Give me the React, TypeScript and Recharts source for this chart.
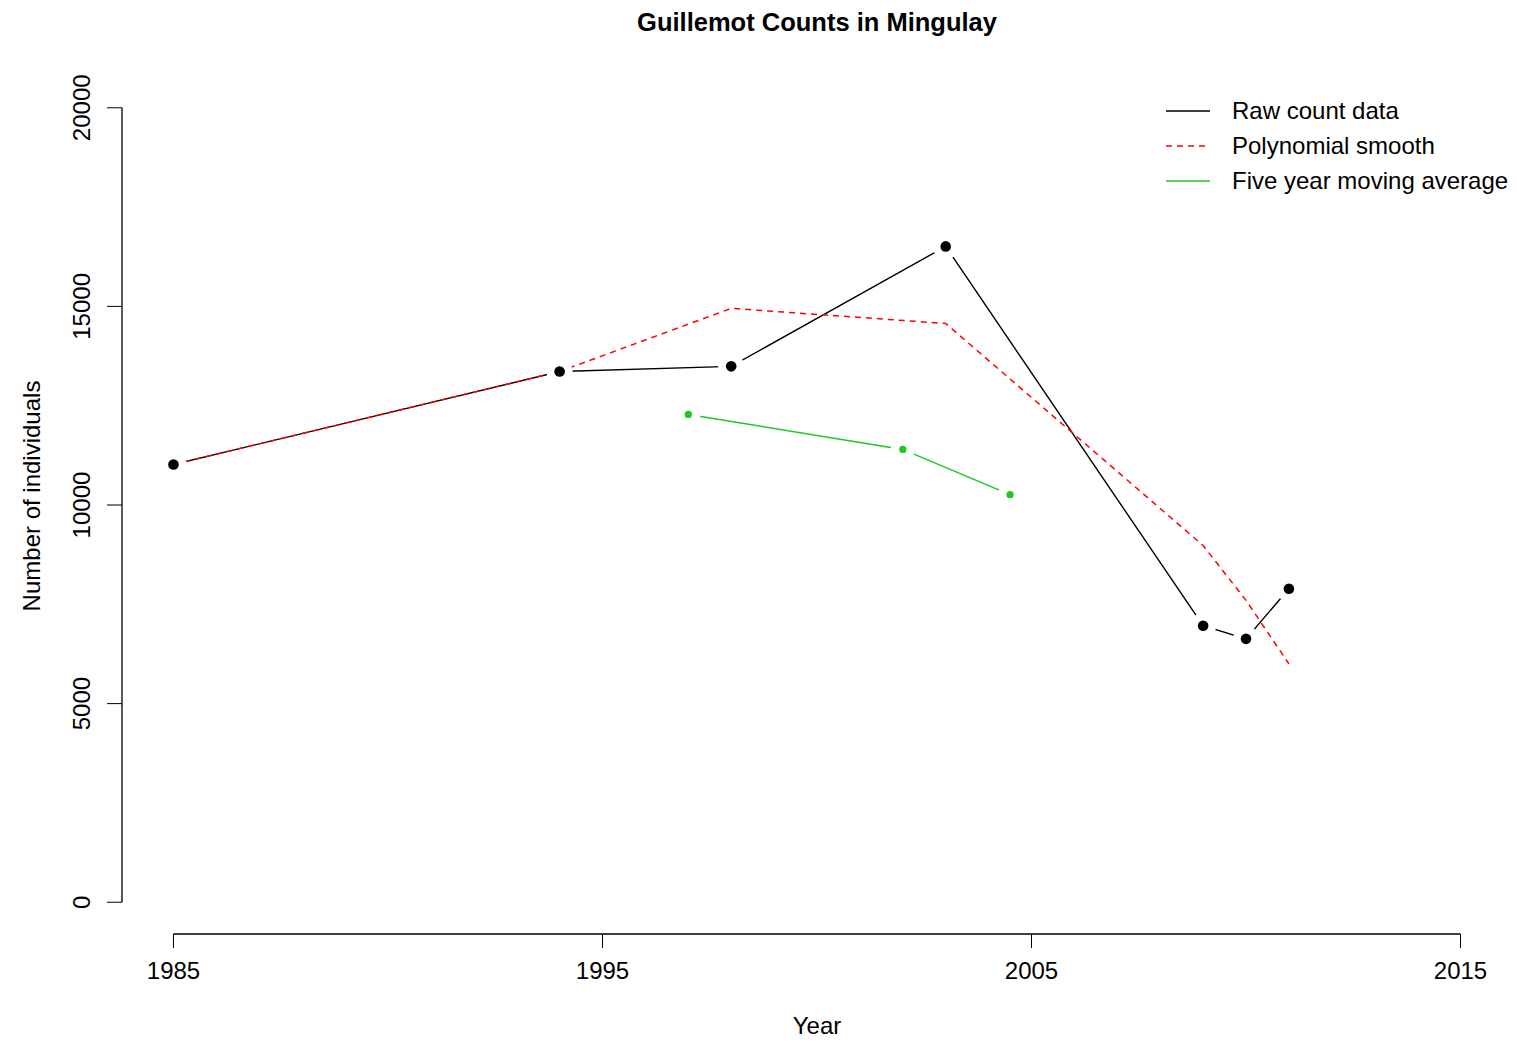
import React from 'react';
import { ComposedChart, Line, XAxis, YAxis, ReferenceLine, Legend, Customized } from 'recharts';

// survey years and raw counts
const rawYears = [1985, 1994, 1998, 2003, 2009, 2010, 2011];
const rawCounts = [11020, 13360, 13490, 16510, 6960, 6630, 7890];

// polynomial fit, evaluated at the survey years
const smoothCounts = [11020, 13360, 14950, 14570, 8980, 7600, 6000];

// five year moving average
const avgYears = [1997, 2002, 2004.5];
const avgCounts = [12280, 11400, 10260];

const xTicks = [1985, 1995, 2005, 2015];
const yTicks = [0, 5000, 10000, 15000, 20000];

const legendLabels = ['Raw count data', 'Polynomial smooth', 'Five year moving average'];
const legendColors = ['#000000', '#ff0000', '#1ec81e'];
const legendDashes = ['', '6 5', ''];

const rawData = rawYears.map((year, i) => ({ year, value: rawCounts[i] }));
const smoothData = rawYears.map((year, i) => ({ year, value: smoothCounts[i] }));
const avgData = avgYears.map((year, i) => ({ year, value: avgCounts[i] }));

const FONT = '"Liberation Sans", Arial, sans-serif';

// R type="b": points with a gap in the line around them
const RawDot = (props: any) => {
    const { cx, cy, index } = props;
    if (cx == null || cy == null) return <g key={`raw-${index}`} />;
    return (
        <g key={`raw-${index}`}>
            <circle cx={cx} cy={cy} r={13} fill="#fff" />
            <circle cx={cx} cy={cy} r={5.3} fill="#000" />
        </g>
    );
};

const AvgDot = (props: any) => {
    const { cx, cy, index } = props;
    if (cx == null || cy == null) return <g key={`avg-${index}`} />;
    return (
        <g key={`avg-${index}`}>
            <circle cx={cx} cy={cy} r={12} fill="#fff" />
            <circle cx={cx} cy={cy} r={3.6} fill="#1ec81e" />
        </g>
    );
};

const YTick = (props: any) => {
    const { y, payload } = props;
    return (
        <text x={90} y={y} transform={`rotate(-90 90 ${y})`} textAnchor="middle"
            fontSize={24} fill="#000" fontFamily={FONT}>
            {payload.value}
        </text>
    );
};

const Texts = () => (
    <g fontFamily={FONT} fill="#000">
        <text x={817} y={31} textAnchor="middle" fontSize={25.5} fontWeight="bold">
            Guillemot Counts in Mingulay
        </text>
        <text x={817} y={1034} textAnchor="middle" fontSize={24}>Year</text>
        <text x={40} y={496} transform="rotate(-90 40 496)" textAnchor="middle" fontSize={24}>
            Number of individuals
        </text>
    </g>
);

const LegendBox = () => (
    <svg width={360} height={110} style={{ display: 'block' }}>
        {legendLabels.map((label, i) => (
            <g key={label}>
                <line x1={6} x2={50} y1={21 + 35 * i} y2={21 + 35 * i}
                    stroke={legendColors[i]} strokeWidth={1.5}
                    strokeDasharray={legendDashes[i] || undefined} />
                <text x={72} y={29 + 35 * i} fontSize={24} fontFamily={FONT} fill="#000">{label}</text>
            </g>
        ))}
    </svg>
);

export default function App() {
    return (
        <div style={{ position: 'absolute', left: 0, top: 0, background: '#fff' }}>
            <ComposedChart width={1517} height={1049} margin={{ top: 76, right: 5, left: 0, bottom: 0 }}>
                <XAxis type="number" dataKey="year" domain={[1983.8, 2016.2]} allowDataOverflow
                    ticks={xTicks} axisLine={false} tickSize={14} tickMargin={14} height={115}
                    tickLine={{ stroke: '#000' }} tick={{ fill: '#000', fontSize: 24, fontFamily: FONT }} />
                <YAxis type="number" domain={[-800, 20800]} allowDataOverflow ticks={yTicks}
                    axisLine={false} tickSize={15} width={122} tickLine={{ stroke: '#000' }} tick={<YTick />} />
                <ReferenceLine segment={[{ x: 1985, y: -800 }, { x: 2015, y: -800 }]}
                    stroke="#000" strokeWidth={1.3} ifOverflow="visible" />
                <ReferenceLine segment={[{ x: 1983.8, y: 0 }, { x: 1983.8, y: 20000 }]}
                    stroke="#000" strokeWidth={1.3} ifOverflow="visible" />
                <Line data={rawData} dataKey="value" type="linear" stroke="#000" strokeWidth={1.4}
                    dot={RawDot} activeDot={false} isAnimationActive={false} />
                <Line data={smoothData} dataKey="value" type="linear" stroke="#ff0000" strokeWidth={1.5}
                    strokeDasharray="6 5" dot={false} activeDot={false} isAnimationActive={false} />
                <Line data={avgData} dataKey="value" type="linear" stroke="#1ec81e" strokeWidth={1.5}
                    dot={AvgDot} activeDot={false} isAnimationActive={false} />
                <Customized component={<Texts />} />
                <Legend layout="vertical" align="center" verticalAlign="middle" content={<LegendBox />}
                    wrapperStyle={{ position: 'absolute', left: 1160, top: 90, width: 360 }} />
            </ComposedChart>
        </div>
    );
}
